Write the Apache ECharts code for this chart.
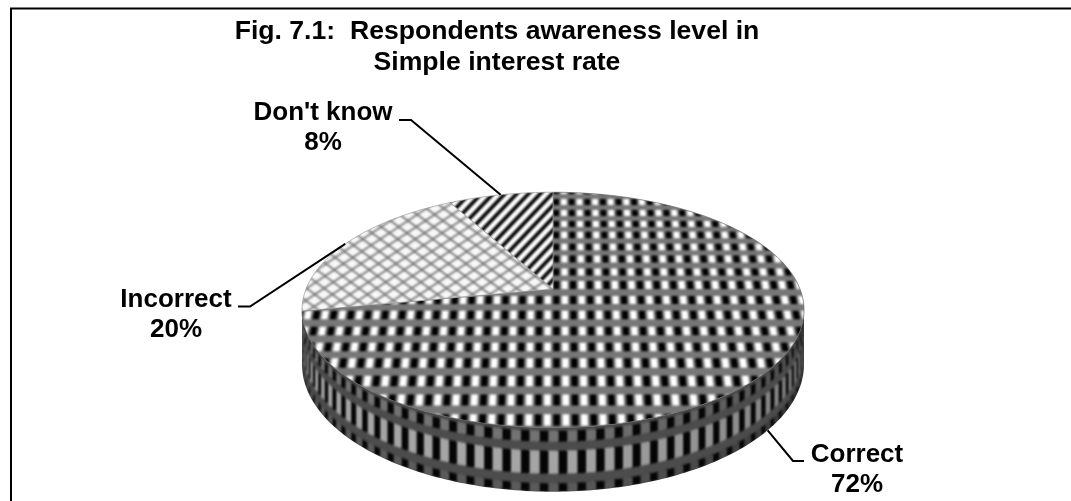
<!DOCTYPE html>
<html>
<head>
<meta charset="utf-8">
<style>html,body{margin:0;padding:0;background:#fff}#chart{width:1071px;height:501px}</style>
<script src="https://cdn.jsdelivr.net/npm/echarts@6/dist/echarts.min.js"></script>
</head>
<body>
<div id="chart"></div>
<script>
// Survey shares
const categories = ['Correct', 'Incorrect', "Don't know"];
const shares = [72, 20, 8];
const titleLines = ['Fig. 7.1:  Respondents awareness level in', 'Simple interest rate'];

const FONT = '"Liberation Sans", Arial, sans-serif';
const W = 1071, H = 501;

// Tilted-disc projection: u runs left to right, v runs back to front, t is depth down the rim.
const disc = { cx: 553, cy: 289, radius: 247, lift: 114, persp: 0.178, depth: 52.6 };
function project(deg, t) {
  const a = deg * Math.PI / 180;
  const u = Math.sin(a), v = -Math.cos(a);
  const s = 1 / (1 - disc.persp * v);
  return [disc.cx + disc.radius * u * s, disc.cy + (disc.lift * v + disc.depth * t) * s];
}
// Angles where the rim becomes visible (silhouette of the tilted disc)
const rimFrom = 90 + Math.asin(disc.persp) * 180 / Math.PI;
const rimTo = 360 - rimFrom;

function makeCanvas(paint) {
  const c = document.createElement('canvas');
  c.width = W; c.height = H;
  const ctx = c.getContext('2d');
  ctx.filter = 'blur(0.8px)';
  paint(ctx);
  return c;
}
function quad(ctx, color, pts) {
  ctx.fillStyle = color;
  ctx.beginPath();
  pts.forEach((p, i) => i ? ctx.lineTo(p[0], p[1]) : ctx.moveTo(p[0], p[1]));
  ctx.closePath();
  ctx.fill();
}

// Check weave: rows of black and white cells on grey, rows widening toward the viewer
const weaveRows = [180, 191, 202, 213, 224, 235, 247, 259, 272, 285, 300, 315, 331, 347, 363, 381, 400, 420, 441];
const weaveTexture = makeCanvas(ctx => {
  ctx.fillStyle = '#777';
  ctx.fillRect(0, 0, W, H);
  const pitch = 16.8, cell = 6;
  const fan = (x, y) => disc.cx + (x - disc.cx) * (1 + (y - 290) * 0.0008);
  weaveRows.forEach((y, r) => {
    const next = weaveRows[r + 1] || y + 20;
    const half = (next - y) * 0.27;
    const top = y - half, bot = y + half;
    for (let i = -22; i <= 22; i++) {
      const xb = disc.cx + 3.3 + i * pitch, xw = xb + pitch / 2;
      [[xb, '#000'], [xw, '#fff']].forEach(([x, col]) => {
        quad(ctx, col, [
          [fan(x - cell / 2, top), top], [fan(x + cell / 2, top), top],
          [fan(x + cell / 2, bot), bot], [fan(x - cell / 2, bot), bot]
        ]);
      });
    }
  });
});

// Open lattice of crossed grey lines
const latticeTexture = makeCanvas(ctx => {
  ctx.fillStyle = '#f8f8f8';
  ctx.fillRect(0, 0, W, H);
  ctx.strokeStyle = '#707070';
  ctx.lineWidth = 1.6;
  for (let x = -800; x < 1400; x += 17.5) {
    ctx.beginPath(); ctx.moveTo(x, 0); ctx.lineTo(x + H * 1.35, H); ctx.stroke();
    ctx.beginPath(); ctx.moveTo(x, H); ctx.lineTo(x + H * 1.5, 0); ctx.stroke();
  }
});

// Diagonal black and white stripes
const stripeTexture = makeCanvas(ctx => {
  ctx.fillStyle = '#fff';
  ctx.fillRect(0, 0, W, H);
  ctx.strokeStyle = '#000';
  ctx.lineWidth = 3.8;
  for (let x = -200; x < 1400; x += 11.8) {
    ctx.beginPath(); ctx.moveTo(x, H); ctx.lineTo(x + H * 0.95, 0); ctx.stroke();
  }
});

// Rim: dark band carrying three rows of black and light cells
const rimRows = [[0.05, 0.22, 0.7], [0.36, 0.72, 1], [0.87, 1.0, 0.55]];
const rimTexture = makeCanvas(ctx => {
  ctx.fillStyle = '#4c4c4c';
  ctx.fillRect(0, 0, W, H);
  const stepDeg = 3.6, wide = 1.45;
  for (let d = 90; d <= 270; d += stepDeg / 2) {
    const idx = Math.round((d - 180) / (stepDeg / 2));
    const isLight = idx % 2 === 0;
    rimRows.forEach(([t0, t1, tone]) => {
      let col = '#050505';
      if (isLight) {
        // Light cells fade toward the right-hand side of the rim
        const g = Math.round(165 * tone - (d < 180 ? (180 - d) * 0.6 : 0));
        col = `rgb(${g},${g},${g})`;
      }
      const half = wide * (isLight ? 0.72 : 0.62);
      quad(ctx, col, [
        project(d - half, t0), project(d + half, t0),
        project(d + half, t1), project(d - half, t1)
      ]);
    });
  }
});

const sliceFills = [weaveTexture, latticeTexture, stripeTexture];
const sliceEdges = ['#666', '#999', '#999'];

// Label blocks and their elbow leaders; the far end of each leader sits on the slice's mid-angle
const callouts = [
  { x: 857, y: 470, elbow: [[804, 461], [793, 461]], rimDepth: 1 },
  { x: 176, y: 315, elbow: [[238, 306.5], [250, 306.5]], rimDepth: 0 },
  { x: 323, y: 128, elbow: [[399, 120], [411, 120]], rimDepth: 0 }
];

function renderSlice(params, api) {
  const i = api.value(0);
  const total = shares.reduce((a, b) => a + b, 0);
  const before = shares.slice(0, i).reduce((a, b) => a + b, 0);
  const start = before / total * 360;
  const end = (before + api.value(1)) / total * 360;
  const children = [];

  // Visible rim of this slice
  const a0 = Math.max(start, rimFrom), a1 = Math.min(end, rimTo);
  if (a1 > a0) {
    const pts = [];
    for (let d = a0; d < a1; d += 1) pts.push(project(d, 0));
    pts.push(project(a1, 0));
    for (let d = a1; d > a0; d -= 1) pts.push(project(d, 1));
    pts.push(project(a0, 1));
    children.push({ type: 'polygon', shape: { points: pts },
      style: { fill: { image: rimTexture, repeat: 'no-repeat' } } });
  }

  // Top face of this slice
  const face = [[disc.cx, disc.cy]];
  for (let d = start; d < end; d += 1) face.push(project(d, 0));
  face.push(project(end, 0));
  children.push({ type: 'polygon', shape: { points: face },
    style: { fill: { image: sliceFills[i], repeat: 'no-repeat' }, stroke: sliceEdges[i], lineWidth: 0.7 } });

  // Leader and label
  const c = callouts[i];
  const anchor = project((start + end) / 2, c.rimDepth);
  children.push({ type: 'polyline', z2: 5, shape: { points: [c.elbow[0], c.elbow[1], anchor] },
    style: { fill: 'none', stroke: '#000', lineWidth: 2 } });
  children.push({ type: 'text', z2: 6, x: c.x, y: c.y, style: {
    text: categories[i] + '\n' + api.value(1) + '%',
    fill: '#000', font: 'bold 26px ' + FONT, lineHeight: 30,
    align: 'center', verticalAlign: 'middle'
  } });
  return { type: 'group', children };
}

const chart = echarts.init(document.getElementById('chart'), null, { renderer: 'canvas' });
chart.setOption({
  animation: false,
  backgroundColor: '#fff',
  title: {
    text: titleLines.join('\n'),
    left: 492, top: 11, textAlign: 'center',
    textStyle: { fontFamily: FONT, fontWeight: 'bold', fontSize: 26.6, lineHeight: 31, color: '#000', align: 'center' }
  },
  graphic: [{
    type: 'polyline', silent: true,
    shape: { points: [[11, 520], [11, 8.5], [1080, 8.5]] },
    style: { fill: 'none', stroke: '#000', lineWidth: 2 }
  }],
  series: [{
    type: 'custom',
    coordinateSystem: 'none',
    renderItem: renderSlice,
    data: categories.map((name, i) => ({ name, value: [i, shares[i]] }))
  }]
});
</script>
</body>
</html>
